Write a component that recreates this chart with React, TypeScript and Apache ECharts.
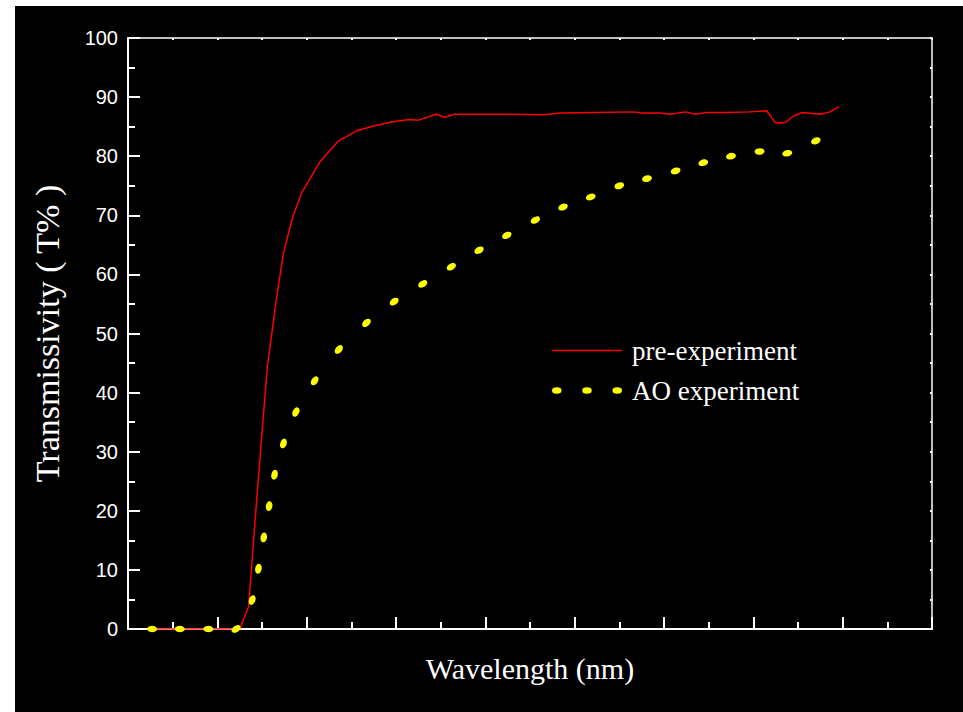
import React, { useEffect, useRef } from "react";
import * as echarts from "echarts";

// Wavelength axis (no tick labels shown in the reference)
const xMin = 200;
const xMax = 1100;
const xStep = 100;
// Transmissivity axis
const yMin = 0;
const yMax = 100;
const yStep = 10;

// pre-experiment (red solid line)
const preWavelength = [225, 325, 335, 344, 350, 356, 366, 374, 384, 394, 415, 435, 456, 475, 495, 515, 525, 545, 555, 565, 590, 628, 665, 684, 722, 766, 775, 796, 807, 824, 835, 848, 870, 896, 915, 925, 936, 945, 955, 975, 986, 996];
const preTrans = [0, 0, 3.8, 21.8, 33.2, 44.4, 55.7, 63.6, 69.5, 73.7, 79.1, 82.5, 84.3, 85.1, 85.8, 86.2, 86.1, 87.1, 86.6, 87.1, 87.1, 87.1, 87.0, 87.3, 87.4, 87.5, 87.3, 87.3, 87.1, 87.5, 87.1, 87.4, 87.4, 87.5, 87.7, 85.6, 85.7, 86.8, 87.4, 87.1, 87.5, 88.4];

// AO experiment (yellow dotted)
const aoWavelength = [227, 258, 290, 321, 339, 346, 352, 358, 364, 374, 388, 409, 436, 467, 498, 530, 562, 593, 624, 656, 687, 718, 750, 781, 813, 844, 875, 907, 938, 970];
const aoTrans = [0, 0, 0, 0, 4.9, 10.2, 15.5, 20.8, 26.1, 31.4, 36.7, 42.0, 47.3, 51.8, 55.4, 58.4, 61.3, 64.1, 66.6, 69.2, 71.4, 73.1, 75.0, 76.2, 77.5, 78.9, 80.0, 80.8, 80.5, 82.6];

const seriesNames = ["pre-experiment", "AO experiment"];
const xTitle = "Wavelength (nm)";
const yTitle = "Transmissivity ( T% )";

const lineIcon = "path://M0,0L70,0L70,1.5L0,1.5Z";
const dotsIcon =
  "path://M0,3A4.5,3 0 1,0 9,3A4.5,3 0 1,0 0,3ZM28.5,3A4.5,3 0 1,0 37.5,3A4.5,3 0 1,0 28.5,3ZM57,3A4.5,3 0 1,0 66,3A4.5,3 0 1,0 57,3Z";

export default function App() {
  const ref = useRef<HTMLDivElement>(null);

  useEffect(() => {
    if (!ref.current) return;
    const chart = echarts.init(ref.current, null, { renderer: "svg" });
    const preData = preWavelength.map((x, i) => [x, preTrans[i]]);
    const aoData = aoWavelength.map((x, i) => [x, aoTrans[i]]);

    const white = "#ffffff";
    const mainAxis = (extra: any) => ({
      axisLine: { show: true, onZero: false, lineStyle: { color: white, width: 2 } },
      axisTick: { show: true, inside: true, length: 12, lineStyle: { color: white, width: 2 } },
      minorTick: { show: true, splitNumber: 2, length: 7, lineStyle: { color: white, width: 2 } },
      splitLine: { show: false },
      ...extra,
    });
    const mirrorAxis = (extra: any) => ({
      axisLine: { show: true, onZero: false, lineStyle: { color: white, width: 1.5 } },
      axisTick: { show: true, inside: true, length: 2, lineStyle: { color: white, width: 2 } },
      minorTick: { show: true, splitNumber: 2, length: 2, lineStyle: { color: white, width: 2 } },
      axisLabel: { show: false },
      splitLine: { show: false },
      ...extra,
    });

    const option: any = {
      animation: false,
      backgroundColor: "#000000",
      grid: { left: 113, top: 32, right: 31, bottom: 83, containLabel: false },
      legend: {
        orient: "vertical",
        left: 537,
        top: 331,
        padding: 0,
        itemWidth: 70,
        itemHeight: 14,
        itemGap: 13,
        data: [
          { name: seriesNames[0], icon: lineIcon, itemStyle: { color: "#ff0000" } },
          { name: seriesNames[1], icon: dotsIcon },
        ],
        textStyle: {
          color: white,
          fontFamily: "Liberation Serif",
          fontSize: 27,
          padding: [0, 0, 0, 5],
        },
      },
      xAxis: [
        mainAxis({
          type: "value",
          position: "bottom",
          min: xMin,
          max: xMax,
          interval: xStep,
          axisLabel: { show: false },
          name: xTitle,
          nameLocation: "middle",
          nameGap: 24,
          nameTextStyle: { color: white, fontFamily: "Liberation Serif", fontSize: 30 },
        }),
        mirrorAxis({ type: "value", position: "top", min: xMin, max: xMax, interval: xStep }),
      ],
      yAxis: [
        mainAxis({
          type: "value",
          position: "left",
          min: yMin,
          max: yMax,
          interval: yStep,
          axisLabel: { color: white, fontFamily: "Liberation Sans", fontSize: 20, margin: 10 },
          name: yTitle,
          nameLocation: "middle",
          nameGap: 64,
          nameTextStyle: { color: white, fontFamily: "Liberation Serif", fontSize: 34 },
        }),
        mirrorAxis({ type: "value", position: "right", min: yMin, max: yMax, interval: yStep }),
      ],
      series: [
        {
          id: "pre",
          name: seriesNames[0],
          type: "line",
          data: preData,
          symbol: "none",
          lineStyle: { color: "#ff0000", width: 1.5 },
          itemStyle: { color: "#ff0000" },
          z: 2,
        },
        {
          id: "ao",
          name: seriesNames[1],
          type: "line",
          data: aoData,
          symbol: "circle",
          symbolSize: [10, 6.5],
          showSymbol: true,
          showAllSymbol: true,
          lineStyle: { opacity: 0, width: 0 },
          itemStyle: { color: "#ffff00" },
          z: 3,
        },
      ],
    };
    chart.setOption(option);

    // orient each dot along the curve's local direction (screen space)
    const px = aoData.map((p) => chart.convertToPixel({ seriesId: "ao" }, p) as number[]);
    const rotated = aoData.map((p, i) => {
      const a = px[Math.max(0, i - 1)];
      const b = px[Math.min(px.length - 1, i + 1)];
      const ang = (Math.atan2(-(b[1] - a[1]), b[0] - a[0]) * 180) / Math.PI;
      return { value: p, symbolRotate: ang };
    });
    chart.setOption({ series: [{ id: "pre" }, { id: "ao", data: rotated }] });

    return () => chart.dispose();
  }, []);

  return (
    <div style={{ position: "fixed", left: 0, top: 0, width: 963, height: 712, background: "#ffffff" }}>
      <div ref={ref} style={{ position: "absolute", left: 15, top: 6, width: 948, height: 706 }} />
    </div>
  );
}
